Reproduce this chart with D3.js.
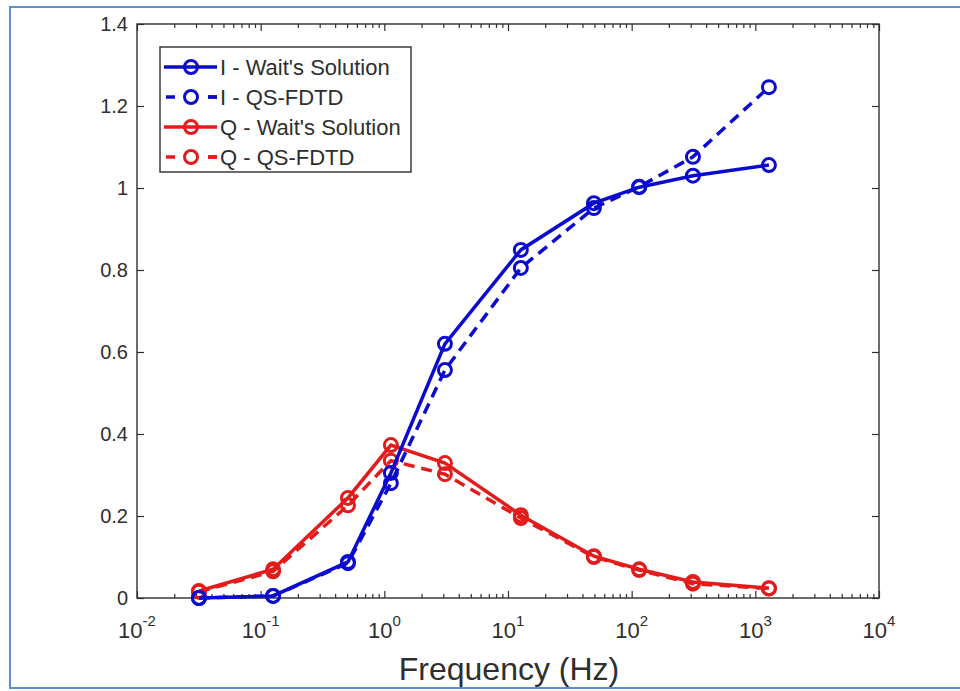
<!DOCTYPE html>
<html><head><meta charset="utf-8">
<script src="https://cdn.jsdelivr.net/npm/d3@7/dist/d3.min.js"></script>
<style>body{margin:0;background:#fff}svg{display:block}text{font-family:"Liberation Sans",Arial,sans-serif}</style>
</head><body><svg id="c" width="960" height="691"></svg>
<script>
const freq = [0.0317, 0.126, 0.508, 1.13, 3.09, 12.7, 49.5, 115, 313, 1288];
const iWait = [0.000, 0.005, 0.088, 0.305, 0.620, 0.849, 0.963, 1.002, 1.030, 1.056];
const iFdtd = [0.000, 0.005, 0.085, 0.280, 0.556, 0.805, 0.951, 1.003, 1.076, 1.246];
const qWait = [0.017, 0.070, 0.244, 0.373, 0.329, 0.202, 0.102, 0.070, 0.039, 0.024];
const qFdtd = [0.015, 0.065, 0.226, 0.335, 0.302, 0.195, 0.100, 0.068, 0.035, 0.023];
const xDecades = [-2, -1, 0, 1, 2, 3, 4];
const yTicks = [0, 0.2, 0.4, 0.6, 0.8, 1, 1.2, 1.4];
const seriesNames = ["I - Wait's Solution", "I - QS-FDTD", "Q - Wait's Solution", "Q - QS-FDTD"];

const BLUE = "#0b0bd0", RED = "#e31b1b", AX = "#2e2e2e";
const svg = d3.select("#c");
svg.append("rect").attr("x", 10).attr("y", 7).attr("width", 980).attr("height", 681)
  .attr("fill", "none").attr("stroke", "#5b8fd0").attr("stroke-width", 2);

const L = 137, R = 879, T = 24, B = 598;
const x = d3.scaleLog().domain([1e-2, 1e4]).range([L, R]);
const y = d3.scaleLinear().domain([0, 1.4]).range([B, T]);

const majors = xDecades.map(d => Math.pow(10, d));
const minors = [];
for (let d = -2; d < 4; d++) for (let k = 2; k <= 9; k++) minors.push(k * Math.pow(10, d));

function styleAxis(g) {
  g.select(".domain").remove();
  g.selectAll("line").attr("stroke", AX).attr("stroke-width", 1.2);
}
svg.append("g").attr("transform", `translate(0,${B})`).call(d3.axisBottom(x).tickValues(majors).tickSize(-7).tickFormat("")).call(styleAxis);
svg.append("g").attr("transform", `translate(0,${B})`).call(d3.axisBottom(x).tickValues(minors).tickSize(-4).tickFormat("")).call(styleAxis);
svg.append("g").attr("transform", `translate(0,${T})`).call(d3.axisTop(x).tickValues(majors).tickSize(-7).tickFormat("")).call(styleAxis);
svg.append("g").attr("transform", `translate(0,${T})`).call(d3.axisTop(x).tickValues(minors).tickSize(-4).tickFormat("")).call(styleAxis);
svg.append("g").attr("transform", `translate(${L},0)`).call(d3.axisLeft(y).tickValues(yTicks).tickSize(-7).tickFormat("")).call(styleAxis);
svg.append("g").attr("transform", `translate(${R},0)`).call(d3.axisRight(y).tickValues(yTicks).tickSize(-7).tickFormat("")).call(styleAxis);

svg.append("rect").attr("x", L).attr("y", T).attr("width", R - L).attr("height", B - T)
  .attr("fill", "none").attr("stroke", AX).attr("stroke-width", 1.4);

svg.append("g").selectAll("text").data(yTicks).join("text")
  .attr("x", L - 9).attr("y", d => y(d) + 7).attr("text-anchor", "end")
  .attr("font-size", 20).attr("fill", AX).text(d => d3.format("~g")(d));
const xl = svg.append("g").selectAll("text").data(xDecades).join("text")
  .attr("x", d => x(Math.pow(10, d))).attr("y", 638).attr("text-anchor", "middle")
  .attr("font-size", 22).attr("fill", AX);
xl.append("tspan").text("10");
xl.append("tspan").attr("dy", -12).attr("font-size", 15).text(d => d);

svg.append("text").attr("x", (L + R) / 2 + 1).attr("y", 680).attr("text-anchor", "middle")
  .attr("font-size", 32).attr("fill", AX).text("Frequency (Hz)");

const series = [
  {v: iWait, c: BLUE, dash: null},
  {v: iFdtd, c: BLUE, dash: "11,7"},
  {v: qWait, c: RED, dash: null},
  {v: qFdtd, c: RED, dash: "11,7"}
];
const line = d3.line().x(d => x(d[0])).y(d => y(d[1]));
[3, 2, 1, 0].forEach(i => {
  const s = series[i];
  const pts = freq.map((f, j) => [f, s.v[j]]);
  svg.append("path").datum(pts).attr("d", line).attr("fill", "none")
    .attr("stroke", s.c).attr("stroke-width", 3.5).attr("stroke-dasharray", s.dash);
  svg.append("g").selectAll("circle").data(pts).join("circle")
    .attr("cx", d => x(d[0])).attr("cy", d => y(d[1])).attr("r", 6.5)
    .attr("fill", "none").attr("stroke", s.c).attr("stroke-width", 3);
});

const lg = svg.append("g");
lg.append("rect").attr("x", 160).attr("y", 47).attr("width", 251).attr("height", 125)
  .attr("fill", "#fff").attr("stroke", AX).attr("stroke-width", 1.4);
seriesNames.forEach((n, i) => {
  const s = series[i], yy = 67 + i * 30;
  lg.append("line").attr("x1", s.dash ? 166 : 164).attr("x2", 217).attr("y1", yy).attr("y2", yy)
    .attr("stroke", s.c).attr("stroke-width", 3.5).attr("stroke-dasharray", s.dash ? "9,33" : null);
  if (s.dash) lg.append("line").attr("x1", 208).attr("x2", 217).attr("y1", yy).attr("y2", yy)
    .attr("stroke", s.c).attr("stroke-width", 3.5);
  lg.append("circle").attr("cx", 191).attr("cy", yy).attr("r", 6.5).attr("fill", "none")
    .attr("stroke", s.c).attr("stroke-width", 3);
  lg.append("text").attr("x", 220).attr("y", yy + 8).attr("font-size", 22).attr("fill", AX).text(n);
});
</script></body></html>
